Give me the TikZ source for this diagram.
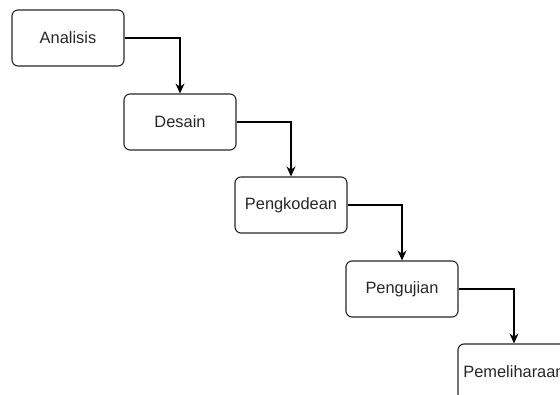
\documentclass[tikz,border=0pt]{standalone}
\usepackage{fontspec}
\setmainfont{Liberation Sans}
\usetikzlibrary{arrows.meta}
\begin{document}
\begin{tikzpicture}[x=1pt,y=-1pt,
  stepbox/.style={draw=black!85, line width=1.1pt, rounded corners=6pt,
    minimum width=112pt, minimum height=56pt, inner sep=0pt,
    font=\fontsize{16.4}{18}\selectfont, text=black!85},
  conn/.style={draw=black, line width=1.1pt, -{Stealth[length=10pt,width=9pt]}}]
\useasboundingbox (0,0) rectangle (560,395);
\clip (0,0) rectangle (560,395);
\node[stepbox] (a) at (68,38) {Analisis};
\node[stepbox] (b) at (180,122) {Desain};
\node[stepbox] (c) at (291,205) {Pengkodean};
\node[stepbox] (d) at (402,289) {Pengujian};
\node[stepbox] (e) at (514,372) {Pemeliharaan};
\draw[conn] (a.east) -| (b.north);
\draw[conn] (b.east) -| (c.north);
\draw[conn] (c.east) -| (d.north);
\draw[conn] (d.east) -| (e.north);
\end{tikzpicture}
\end{document}
